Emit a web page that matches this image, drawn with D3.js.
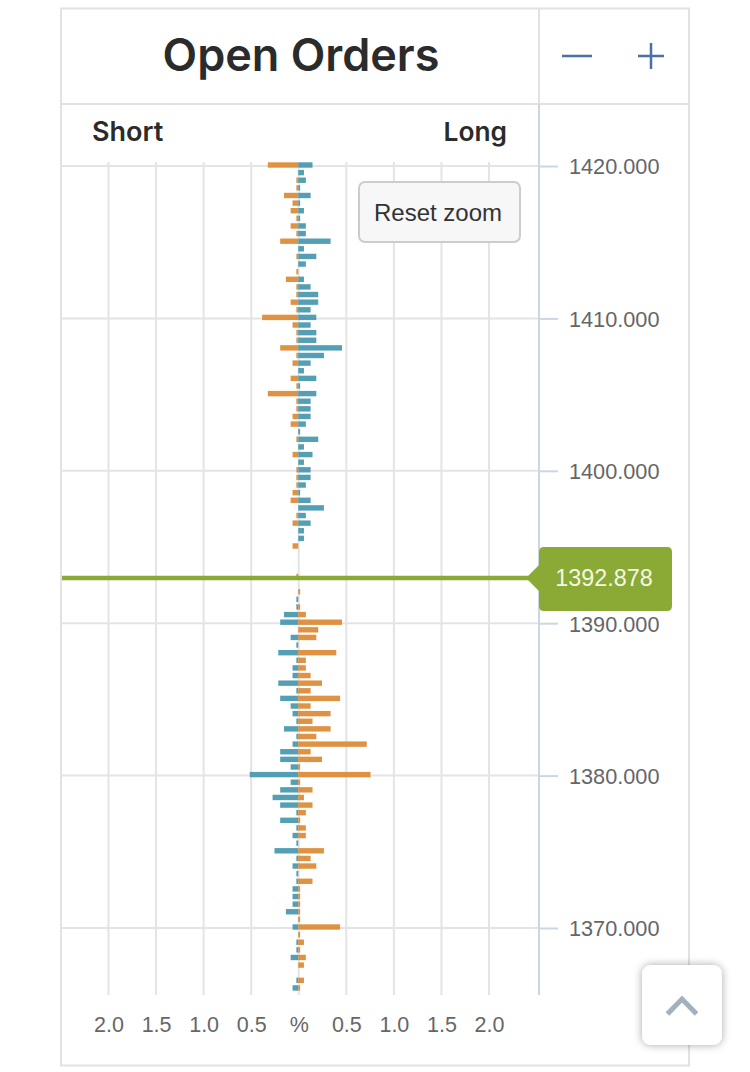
<!DOCTYPE html>
<html><head><meta charset="utf-8">
<script src="https://cdn.jsdelivr.net/npm/d3@7"></script>
<style>html,body{margin:0;padding:0;background:#fff}svg{display:block}</style>
</head><body><svg id="c" width="750" height="1072"></svg>
<script>
const prices=[1420,1419.5,1419,1418.5,1418,1417.5,1417,1416.5,1416,1415.5,1415,1414.5,1414,1413.5,1413,1412.5,1412,1411.5,1411,1410.5,
1410,1409.5,1409,1408.5,1408,1407.5,1407,1406.5,1406,1405.5,1405,1404.5,1404,1403.5,1403,1402.5,1402,1401.5,1401,1400.5,
1400,1399.5,1399,1398.5,1398,1397.5,1397,1396.5,1396,1395.5,1395,1393,
1392,1391.5,1391,1390.5,1390,1389.5,1389,1388.5,1388,1387.5,1387,1386.5,1386,1385.5,1385,1384.5,1384,1383.5,1383,1382.5,1382,1381.5,1381,1380.5,
1380,1379.5,1379,1378.5,1378,1377.5,1377,1376.5,1376,1375.5,1375,1374.5,1374,1373.5,1373,1372.5,1372,1371.5,1371,1370.5,
1370,1369.5,1369,1368.5,1368,1367.5,1366.5,1366];
const shortValues=[.32,0,.02,.02,.15,.06,.08,.02,.08,.02,.19,0,.02,0,.02,.13,.02,.02,.08,.02,
.38,.06,.02,.02,.19,.02,.06,0,.08,.02,.32,.02,.02,.06,.08,0,.02,0,.06,0,
.02,.02,.02,.06,.08,0,.02,.06,0,0,.06,.02,
0,.02,.02,.15,.19,0,.08,.02,.21,.02,.06,.06,.21,.02,.19,.08,.06,.02,.15,.02,.06,.19,.19,.08,
.51,.08,.19,.27,.19,.02,.19,.02,.06,.02,.25,.02,.06,.02,.02,.06,.06,.06,.13,0,
.06,0,.02,.02,.08,0,.02,.06];
const longValues=[.15,.06,.08,.02,.13,.02,.06,.02,.08,.08,.34,.06,.19,.08,0,.06,.13,.21,.21,.13,
.19,.13,.19,.19,.46,.27,.13,.06,.19,.02,.19,.13,.13,.13,.08,.02,.21,.06,.15,.06,
.13,.13,.08,.02,.13,.27,.08,.13,.06,.06,0,0,
.02,0,.02,.08,.46,.21,.19,0,.4,.08,.08,.13,.25,.13,.44,.13,.34,.15,.34,.19,.72,.13,.25,.02,
.76,.02,.15,.06,.15,.08,.02,.08,.08,0,.27,.13,.19,0,.15,.02,.02,.02,.02,.02,
.44,.02,.06,.02,.08,.06,.06,.02];
const currentPrice=1392.878;
const priceTicks=[1420,1410,1400,1390,1380,1370];
const pctTicks=[-2,-1.5,-1,-.5,0,.5,1,1.5,2];
const title="Open Orders",leftLabel="Short",rightLabel="Long",resetLabel="Reset zoom";

const svg=d3.select("#c");
const y=d3.scaleLinear().domain([1420,1370]).range([166,928]);
const x=d3.scaleLinear().domain([-2,2]).range([108.5,489]);
const orange="#de8d38",teal="#4b9ab1",sans="'Liberation Sans',Arial,sans-serif",head="Inter,'Noto Sans',sans-serif";
const bottom=995;

// frame
svg.append("rect").attr("x",61).attr("y",8.5).attr("width",628).attr("height",1057).attr("fill","#fff").attr("stroke","#e2e2e2").attr("stroke-width",2);
svg.append("line").attr("x1",61).attr("x2",689).attr("y1",104).attr("y2",104).attr("stroke","#e2e2e2").attr("stroke-width",2);
svg.append("line").attr("x1",539).attr("x2",539).attr("y1",8).attr("y2",104).attr("stroke","#e2e2e2").attr("stroke-width",2);

// grid
svg.append("g").selectAll("line").data(pctTicks).join("line")
 .attr("x1",d=>x(d)).attr("x2",d=>x(d)).attr("y1",162).attr("y2",bottom)
 .attr("stroke","#e4e4e4").attr("stroke-width",2);
svg.append("g").selectAll("line").data(priceTicks).join("line")
 .attr("x1",62).attr("x2",539).attr("y1",d=>y(d)).attr("y2",d=>y(d)).attr("stroke","#e4e4e4").attr("stroke-width",2);

// bars
const rows=prices.map((p,i)=>({p,s:shortValues[i],l:longValues[i]}));
const h=5.4,g=svg.append("g").attr("opacity",.95).attr("transform","translate(-0.5,-1)");
const zero=x(0);
g.selectAll(".a").data(rows).join("rect").attr("class","a")
 .attr("x",d=>x(-d.s)).attr("width",d=>x(0)-x(-d.s)).attr("y",d=>y(d.p)-h/2).attr("height",h)
 .attr("fill",d=>d.p>currentPrice?orange:teal);
g.selectAll(".b").data(rows).join("rect").attr("class","b")
 .attr("x",zero).attr("width",d=>x(d.l)-zero).attr("y",d=>y(d.p)-h/2).attr("height",h)
 .attr("fill",d=>d.p>currentPrice?teal:orange);

// price axis
const ya=svg.append("g").attr("transform","translate(539,0)")
 .call(d3.axisRight(y).tickValues(priceTicks).tickFormat(d3.format(".3f")).tickSize(19).tickPadding(11));
ya.select(".domain").attr("d",`M0,104V${bottom}`).attr("stroke","#ccd6e2").attr("stroke-width",2).attr("fill","none");
ya.selectAll(".tick line").attr("stroke","#ccd6e2").attr("stroke-width",2);
ya.selectAll("text").attr("font-family",sans).attr("font-size",21.7).attr("fill","#666").attr("dy","0.36em");

// pct axis
const xa=svg.append("g").attr("transform",`translate(0,${bottom})`)
 .call(d3.axisBottom(x).tickValues(pctTicks).tickSize(0).tickPadding(22).tickFormat(d=>d===0?"%":d3.format(".1f")(Math.abs(d))));
xa.select(".domain").remove();
xa.selectAll("text").attr("font-family",sans).attr("font-size",21.5).attr("fill","#666");

// header
svg.append("text").attr("x",301).attr("y",71).attr("text-anchor","middle").attr("font-family",head).attr("font-weight",600).attr("font-size",45).attr("fill","#2b2b2b").text(title);
svg.append("text").attr("x",92).attr("y",141).attr("font-family",head).attr("font-weight",600).attr("font-size",27).attr("fill","#2b2b2b").text(leftLabel);
svg.append("text").attr("x",507).attr("y",141).attr("text-anchor","end").attr("font-family",head).attr("font-weight",600).attr("font-size",26.3).attr("fill","#2b2b2b").text(rightLabel);
svg.append("path").attr("d","M562,56H592M638,56H664M651,43V69").attr("stroke","#4a70a4").attr("stroke-width",2.5).attr("fill","none");

// reset button
svg.append("rect").attr("x",359).attr("y",182).attr("width",161).attr("height",60).attr("rx",6).attr("fill","#f7f7f7").attr("stroke","#cccccc").attr("stroke-width",2);
svg.append("text").attr("x",438).attr("y",221).attr("text-anchor","middle").attr("font-family",sans).attr("font-size",24).attr("fill","#333").text(resetLabel);

// current price
const cy=y(currentPrice)-1.3;
svg.append("line").attr("x1",62).attr("x2",532).attr("y1",cy).attr("y2",cy).attr("stroke","#8aa935").attr("stroke-width",4.5);
svg.append("path").attr("d",`M526,${cy}L539,${cy-13}V552Q539,547 544,547H667Q672,547 672,552V606Q672,611 667,611H544Q539,611 539,606V${cy+13}Z`).attr("fill","#8aa935");
svg.append("text").attr("x",604).attr("y",cy+8).attr("text-anchor","middle").attr("font-family",sans).attr("font-size",23.4).attr("fill","#f4f8e4").text(d3.format(".3f")(currentPrice));

// scroll-top button
const defs=svg.append("defs"),f=defs.append("filter").attr("id","sh").attr("x","-30%").attr("y","-30%").attr("width","160%").attr("height","160%");
f.append("feDropShadow").attr("dx",0).attr("dy",0).attr("stdDeviation",4).attr("flood-color","#000").attr("flood-opacity",.35);
svg.append("rect").attr("x",642).attr("y",965).attr("width",80).attr("height",80).attr("rx",9).attr("fill","#fff").attr("filter","url(#sh)");
svg.append("path").attr("d","M667.5,1014L682,999L696.5,1014").attr("stroke","#a3b1bf").attr("stroke-width",5).attr("fill","none");
</script></body></html>
